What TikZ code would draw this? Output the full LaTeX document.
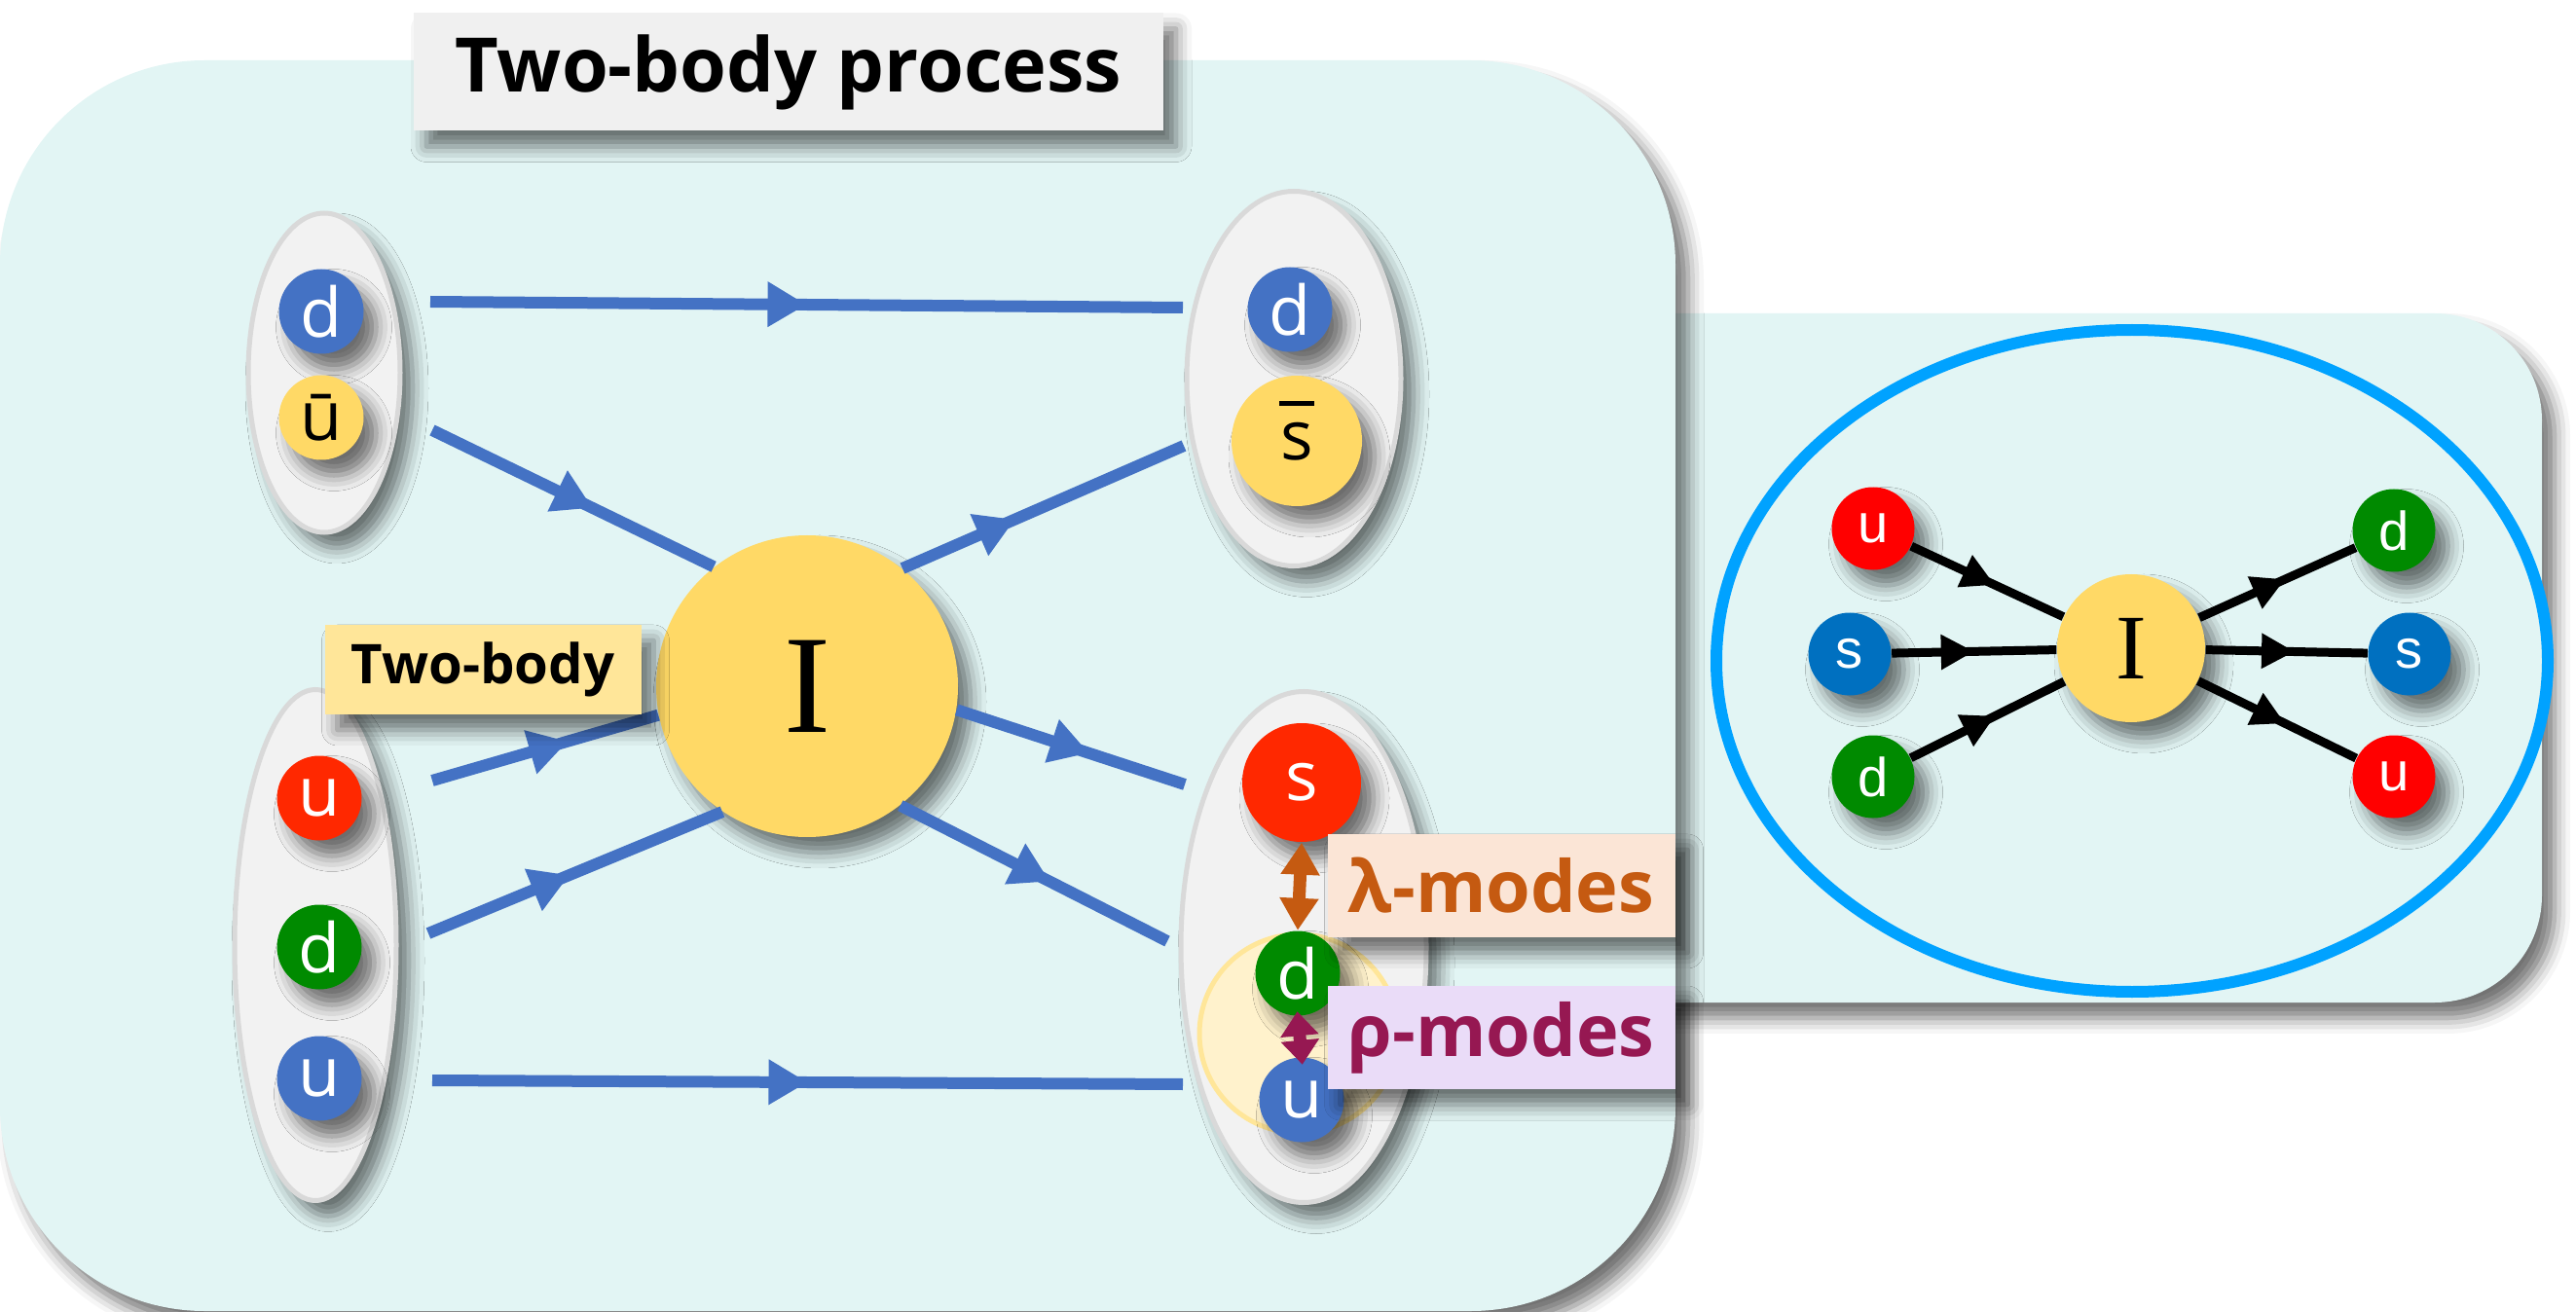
\documentclass[tikz,border=0pt]{standalone}
\usepackage{fontspec}
\newfontfamily\quarkfont{Open Sans}
\newfontfamily\arialfont{Liberation Sans}
\newfontfamily\timesfont{Liberation Serif}
\usetikzlibrary{arrows.meta,shapes.geometric,decorations.markings,shadows.blur}

\definecolor{panelbg}{RGB}{226,245,244}
\definecolor{ellgray}{RGB}{242,242,242}
\definecolor{ellline}{RGB}{217,217,217}
\definecolor{qblue}{RGB}{68,114,196}
\definecolor{qyellow}{RGB}{255,217,102}
\definecolor{qred}{RGB}{255,40,0}
\definecolor{qgreen}{RGB}{0,138,0}
\definecolor{rred}{RGB}{255,0,0}
\definecolor{rblue}{RGB}{0,112,192}
\definecolor{ringblue}{RGB}{0,162,255}
\definecolor{titlegray}{RGB}{240,240,240}
\definecolor{lamcol}{RGB}{197,90,17}
\definecolor{lambg}{RGB}{251,229,214}
\definecolor{rhocol}{RGB}{150,24,82}
\definecolor{rhobg}{RGB}{234,220,248}
\definecolor{paleyellow}{RGB}{255,242,204}
\definecolor{labelyellow}{RGB}{255,230,153}

\begin{document}
\begin{tikzpicture}[%
% common options for shadows and bags:
softshadow/.style = {blur shadow={shadow xshift=1.3mm, shadow yshift=-1.6mm,
            shadow blur radius=1.6mm, shadow opacity=55}},
bag/.style = {ellipse, draw=ellline, line width=0.5mm, fill=ellgray,
            softshadow, inner sep=0},
% common options for the quarks:
quark/.style = {circle, inner sep=0, minimum size=0.87cm, text=white,
            font=\quarkfont\fontsize{20}{20}\selectfont, softshadow},
rquark/.style = {circle, inner sep=0, minimum size=0.85cm, text=white,
            font=\arialfont\fontsize{16}{16}\selectfont, softshadow},
% common options for the lines:
qline/.style = {draw=qblue, line width=1.2mm, decoration={markings,
            mark=at position #1 with {\arrow{Triangle[length=4mm,width=4.4mm,color=qblue]}}},
            postaction={decorate}},
rline/.style = {draw=black, line width=0.9mm, decoration={markings,
            mark=at position #1 with {\arrow{Triangle[length=3.4mm,width=3.4mm]}}},
            postaction={decorate}},
modebox/.style = {inner sep=0, minimum width=3.57cm, minimum height=1.06cm,
            softshadow, font=\quarkfont\bfseries\fontsize{21}{21}\selectfont}]
\useasboundingbox (0,0) rectangle (26.46,13.47);
% panels
\path[fill=panelbg, rounded corners=1.1cm, softshadow] (16,3.17) rectangle (26.11,10.25);
\path[fill=panelbg, rounded corners=2.1cm, softshadow] (0,0) rectangle (17.21,12.85);
\node[fill=titlegray, softshadow, minimum width=7.7cm, minimum height=1.21cm,
      font=\quarkfont\bfseries\fontsize{22}{22}\selectfont] (title) at (8.10,12.73) {Two-body process};
% bags
\node[bag, minimum width=1.56cm, minimum height=3.28cm] (bagA) at (3.33,9.64) {};
\node[bag, minimum width=2.20cm, minimum height=3.85cm] (bagB) at (13.29,9.58) {};
\node[bag, minimum width=1.66cm, minimum height=5.25cm] (bagC) at (3.24,3.76) {};
\node[bag, minimum width=2.52cm, minimum height=5.25cm] (bagD) at (13.39,3.74) {};
% interaction
\node[circle, fill=qyellow, softshadow, inner sep=0, minimum size=3.1cm,
      font=\timesfont\fontsize{41}{41}\selectfont] (I) at (8.29,6.42) {I};
\coordinate (a1) at (4.42,10.37);
\coordinate (b1) at (12.15,10.31);
\coordinate (a2) at (4.44,9.05);
\coordinate (b3) at (12.16,8.89);
\coordinate (a4) at (4.44,5.45);
\coordinate (a5) at (4.40,3.88);
\coordinate (a6) at (4.44,2.37);
\coordinate (b6) at (12.15,2.33);
\coordinate (b7) at (12.17,5.41);
\coordinate (b8) at (11.99,3.80);
\draw[qline=0.5] (a1) -- (b1);
\draw[qline=0.57] (a2) -- (I.128);
\draw[qline=0.4] (I.51) -- (b3);
\draw[qline=0.6] (a4) -- (I.191);
\draw[qline=0.48] (a5) -- (I.236);
\draw[qline=0.5] (a6) -- (b6);
\draw[qline=0.58] (I.351) -- (b7);
\draw[qline=0.56] (I.308) -- (b8);
% quarks
\node[quark, fill=qblue] (dA) at (3.30,10.27) {d};
\node[quark, fill=qyellow, text=black] (ubA) at (3.30,9.18) {ū};
\node[quark, fill=qblue] (dB) at (13.25,10.29) {d};
\node[quark, fill=qyellow, text=black, minimum size=1.34cm] (sbB) at (13.32,8.94)
     {\ooalign{s\cr\hidewidth\raisebox{0.78em}{\rule{0.5em}{0.07em}}\hidewidth\cr}};
\node[quark, fill=qred] (uC) at (3.28,5.27) {u};
\node[quark, fill=qgreen] (dC) at (3.28,3.74) {d};
\node[quark, fill=qblue] (uuC) at (3.28,2.39) {u};
\node[quark, fill=qred, minimum size=1.22cm] (sD) at (13.37,5.43) {s};
\node[circle, fill=paleyellow, draw=labelyellow, line width=0.5mm,
      minimum size=2.04cm] (pair) at (13.34,2.85) {};
\node[quark, fill=qgreen] (dD) at (13.33,3.47) {d};
\node[quark, fill=qblue] (uD) at (13.37,2.17) {u};
\node[fill=labelyellow, softshadow, inner sep=0, minimum width=3.25cm, minimum height=0.92cm,
      font=\quarkfont\bfseries\fontsize{16}{16}\selectfont] (twobody) at (4.96,6.59) {Two-body};
% modes
\node[modebox, fill=lambg, text=lamcol] (lam) at (15.42,4.37) {λ-modes};
\node[modebox, fill=rhobg, text=rhocol] (rho) at (15.42,2.81) {ρ-modes};
\draw[draw=lamcol, line width=1.3mm, arrows={Triangle[length=3.3mm,width=3.8mm]-Triangle[length=3.3mm,width=3.8mm]}]
     (sD.south) -- (dD.north);
\draw[draw=rhocol, line width=1.3mm, shorten <=-0.5mm, shorten >=-0.8mm,
      arrows={Triangle[length=2.5mm,width=3.8mm]-Triangle[length=2.5mm,width=3.8mm]}]
     (dD.south) -- (uD.north);
% right diagram
\node[ellipse, draw=ringblue, line width=1.2mm, minimum width=8.54cm,
      minimum height=6.8cm] (ring) at (21.90,6.68) {};
\node[circle, fill=qyellow, softshadow, inner sep=0, minimum size=1.52cm,
      font=\timesfont\fontsize{27}{27}\selectfont] (IR) at (21.89,6.81) {I};
\node[rquark, fill=rred] (uL) at (19.24,8.04) {u};
\node[rquark, fill=rblue] (sL) at (19.00,6.75) {s};
\node[rquark, fill=qgreen] (dL) at (19.24,5.49) {d};
\node[rquark, fill=qgreen] (dR) at (24.59,8.02) {d};
\node[rquark, fill=rblue] (sR) at (24.75,6.75) {s};
\node[rquark, fill=rred] (uR) at (24.59,5.49) {u};
\draw[rline=0.55] (uL) -- (IR);
\draw[rline=0.5] (sL) -- (IR);
\draw[rline=0.55] (dL) -- (IR);
\draw[rline=0.55] (IR) -- (dR);
\draw[rline=0.55] (IR) -- (sR);
\draw[rline=0.55] (IR) -- (uR);
\end{tikzpicture}
\end{document}
